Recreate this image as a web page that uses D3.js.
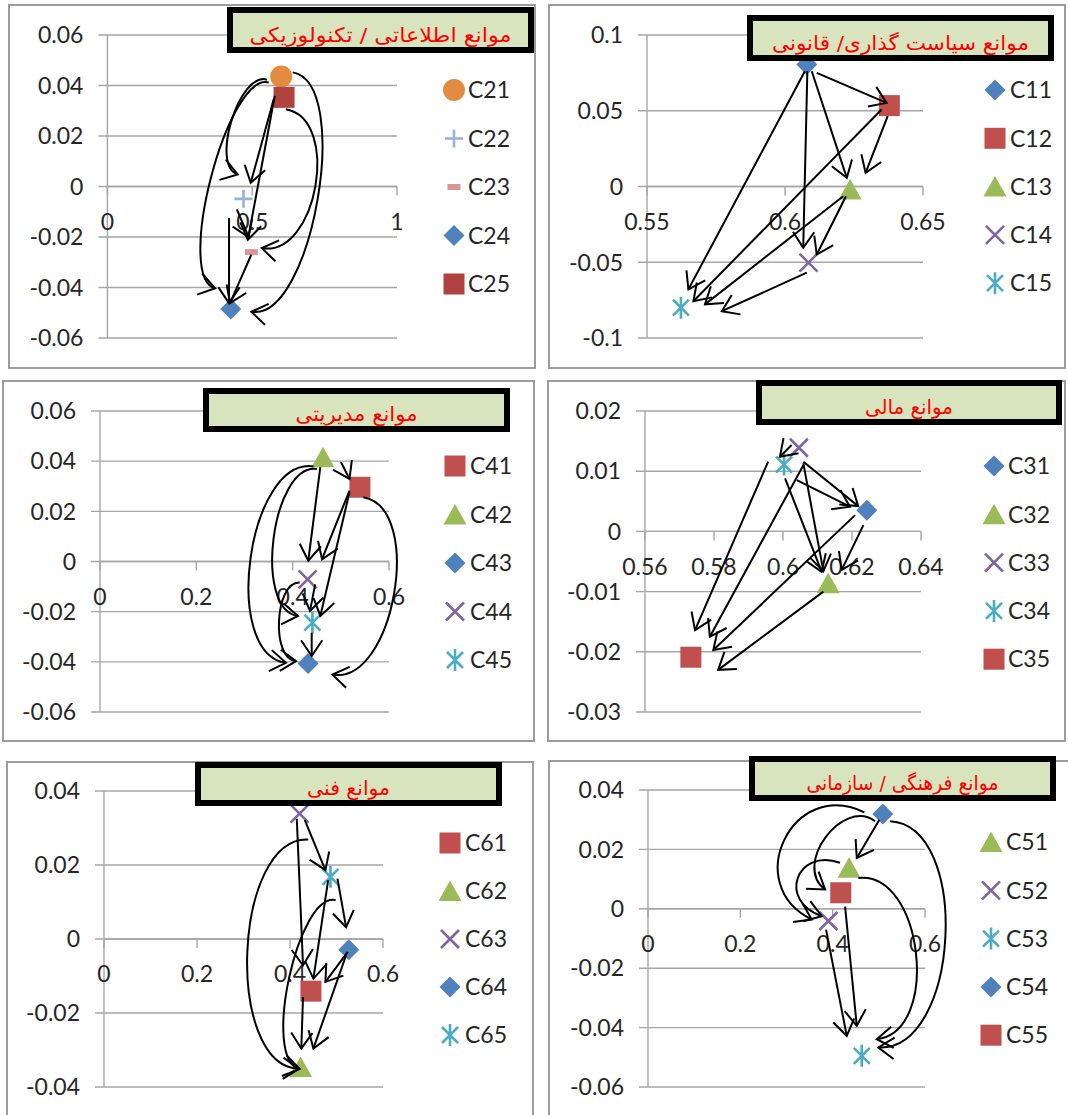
<!DOCTYPE html>
<html><head><meta charset="utf-8">
<script src="https://cdn.jsdelivr.net/npm/d3@7"></script>
<style>body{margin:0;background:#fff} svg{display:block}</style>
</head><body>
<svg id="c" width="1068" height="1115"></svg>
<script>
// ================= DATA =================
// Panel 1 : موانع اطلاعاتی / تکنولوزیکی
const p1Title = "موانع اطلاعاتی / تکنولوزیکی";
const p1Names = ["C21","C22","C23","C24","C25"];
const p1X = [0.600, 0.470, 0.497, 0.426, 0.610];
const p1Y = [0.0436, -0.0049, -0.0260, -0.0485, 0.0353];
const p1XTicks = [0, 0.5, 1];
const p1XLabels = ["0","0.5","1"];
const p1YTicks = [0.06, 0.04, 0.02, 0, -0.02, -0.04, -0.06];
const p1YLabels = ["0.06","0.04","0.02","0","-0.02","-0.04","-0.06"];
// arrows: [x0, y0, x1, y1, bend]
const p1Arrows = [
  [0.551, 0.0423, 0.450, 0.0048, 0.22],
  [0.557, 0.0412, 0.372, -0.0403, 0.15],
  [0.5745, 0.0346, 0.495, 0.0015, 0],
  [0.578, 0.0359, 0.485, -0.0211, 0],
  [0.420, -0.0125, 0.420, -0.0462, 0],
  [0.447, -0.0091, 0.4876, -0.0200, 0],
  [0.497, -0.0270, 0.4235, -0.0462, 0],
  [0.616, 0.0306, 0.533, -0.0244, -0.30],
  [0.640, 0.0452, 0.497, -0.0496, -0.19]
];

// Panel 2 : موانع سیاست گذاری/ قانونی
const p2Title = "موانع سیاست گذاری/ قانونی";
const p2Names = ["C11","C12","C13","C14","C15"];
const p2X = [0.6079, 0.6378, 0.6236, 0.6085, 0.5623];
const p2Y = [0.0805, 0.0534, -0.0020, -0.0503, -0.0800];
const p2XTicks = [0.55, 0.6, 0.65];
const p2XLabels = ["0.55","0.6","0.65"];
const p2YTicks = [0.1, 0.05, 0, -0.05, -0.1];
const p2YLabels = ["0.1","0.05","0","-0.05","-0.1"];
const p2Arrows = [
  [0.6115, 0.0750, 0.6368, 0.0552, 0],
  [0.6097, 0.0761, 0.6224, 0.0057, 0],
  [0.6081, 0.0761, 0.6066, -0.0404, 0],
  [0.6072, 0.0761, 0.5650, -0.0679, 0],
  [0.6372, 0.0464, 0.6292, 0.0090, 0],
  [0.6350, 0.0508, 0.5668, -0.0757, 0],
  [0.6221, -0.0064, 0.6115, -0.0449, 0],
  [0.6211, -0.0064, 0.5710, -0.0778, 0],
  [0.6079, -0.0569, 0.5771, -0.0823, 0]
];

// Panel 3 : موانع مدیریتی
const p3Title = "موانع مدیریتی";
const p3Names = ["C41","C42","C43","C44","C45"];
const p3X = [0.5396, 0.463, 0.432, 0.431, 0.441];
const p3Y = [0.0296, 0.0416, -0.0407, -0.0071, -0.0244];
const p3XTicks = [0, 0.2, 0.4, 0.6];
const p3XLabels = ["0","0.2","0.4","0.6"];
const p3YTicks = [0.06, 0.04, 0.02, 0, -0.02, -0.04, -0.06];
const p3YLabels = ["0.06","0.04","0.02","0","-0.02","-0.04","-0.06"];
const p3Arrows = [
  [0.5003, 0.0396, 0.518, 0.0329, 0],
  [0.4574, 0.0376, 0.4324, 0.0003, 0],
  [0.518, 0.0283, 0.461, 0.0009, 0],
  [0.518, 0.0276, 0.4574, -0.0217, 0],
  [0.4467, -0.0091, 0.436, -0.0197, 0],
  [0.4395, -0.0284, 0.4395, -0.0377, 0],
  [0.4432, 0.0379, 0.386, -0.0404, 0.25],
  [0.4503, 0.0369, 0.411, -0.0217, 0.23],
  [0.4145, -0.0084, 0.407, -0.0397, 0.24],
  [0.5468, 0.0256, 0.4825, -0.0451, -0.26]
];

// Panel 4 : موانع مالی
const p4Title = "موانع مالی";
const p4Names = ["C31","C32","C33","C34","C35"];
const p4X = [0.6243, 0.6131, 0.6046, 0.6003, 0.5733];
const p4Y = [0.0035, -0.0086, 0.0139, 0.0111, -0.0209];
const p4XTicks = [0.56, 0.58, 0.6, 0.62, 0.64];
const p4XLabels = ["0.56","0.58","0.6","0.62","0.64"];
const p4YTicks = [0.02, 0.01, 0, -0.01, -0.02, -0.03];
const p4YLabels = ["0.02","0.01","0","-0.01","-0.02","-0.03"];
const p4Arrows = [
  [0.6025, 0.01434, 0.5991, 0.0124, 0],
  [0.6059, 0.01158, 0.6218, 0.0042, 0],
  [0.6040, 0.0085, 0.6194, 0.0041, 0],
  [0.6006, 0.0088, 0.6112, -0.0067, 0],
  [0.6059, 0.0113, 0.6117, -0.0066, 0],
  [0.6233, 0.00105, 0.6170, -0.0064, 0],
  [0.5957, 0.0116, 0.5745, -0.0164, 0],
  [0.6059, 0.0110, 0.5788, -0.0175, 0],
  [0.6209, 0.0027, 0.5798, -0.0197, 0],
  [0.6117, -0.0100, 0.5812, -0.0230, 0]
];

// Panel 5 : موانع فنی
const p5Title = "موانع فنی";
const p5Names = ["C61","C62","C63","C64","C65"];
const p5X = [0.445, 0.4228, 0.4206, 0.5265, 0.487];
const p5Y = [-0.0141, -0.0346, 0.0339, -0.0029, 0.0168];
const p5XTicks = [0, 0.2, 0.4, 0.6];
const p5XLabels = ["0","0.2","0.4","0.6"];
const p5YTicks = [0.04, 0.02, 0, -0.02, -0.04];
const p5YLabels = ["0.04","0.02","0","-0.02","-0.04"];
const p5Arrows = [
  [0.4318, 0.0321, 0.4761, 0.0186, 0],
  [0.5021, 0.0163, 0.5206, 0.0032, 0],
  [0.4146, 0.0325, 0.4280, -0.0071, 0],
  [0.4821, 0.0159, 0.4503, -0.0107, 0],
  [0.5243, -0.0035, 0.4761, -0.0116, 0],
  [0.4280, -0.0157, 0.4243, -0.0296, 0],
  [0.5206, -0.0044, 0.4503, -0.0296, 0],
  [0.4391, 0.0269, 0.4191, -0.0351, 0.245],
  [0.4983, 0.0105, 0.4206, -0.0351, 0.17]
];

// Panel 6 : موانع فرهنگی / سازمانی
const p6Title = "موانع فرهنگی / سازمانی";
const p6Names = ["C51","C52","C53","C54","C55"];
const p6X = [0.4355, 0.3907, 0.463, 0.5085, 0.4175];
const p6Y = [0.0138, -0.0041, -0.0495, 0.0319, 0.0054];
const p6XTicks = [0, 0.2, 0.4, 0.6];
const p6XLabels = ["0","0.2","0.4","0.6"];
const p6YTicks = [0.04, 0.02, 0, -0.02, -0.04, -0.06];
const p6YLabels = ["0.04","0.02","0","-0.02","-0.04","-0.06"];
const p6Arrows = [
  [0.5012, 0.0300, 0.4522, 0.0171, 0],
  [0.4269, 0.0007, 0.4522, -0.0394, 0],
  [0.3857, -0.0070, 0.4305, -0.0428, 0],
  [0.4687, 0.0325, 0.3547, -0.0036, 0.50],
  [0.4919, 0.0295, 0.3835, 0.0065, 0.36],
  [0.4160, 0.0155, 0.3763, -0.0025, 0.62],
  [0.4557, 0.0104, 0.4955, -0.0439, -0.30],
  [0.5244, 0.0295, 0.4990, -0.0467, -0.27]
];

// ================= STYLE / LAYOUT =================
const BLUE="#4F81BD", RED="#C0504D", GREEN="#9BBB59", PURPLE="#8064A2", CYAN="#4BACC6";
const p1Sym = ["circle","plus","dash","diamond","square"];
const p1Col = ["#E38B3E","#95B3D7","#D99694",BLUE,"#B04340"];
const p2Sym = ["diamond","square","triangle","x","star"];
const p2Col = [BLUE,RED,GREEN,PURPLE,CYAN];
const p3Sym = ["square","triangle","diamond","x","star"];
const p3Col = [RED,GREEN,BLUE,PURPLE,CYAN];
const p4Sym = ["diamond","triangle","x","star","square"];
const p4Col = [BLUE,GREEN,PURPLE,CYAN,RED];
const p5Sym = ["square","triangle","x","diamond","star"];
const p5Col = [RED,GREEN,PURPLE,BLUE,CYAN];
const p6Sym = ["triangle","x","star","diamond","square"];
const p6Col = [GREEN,PURPLE,CYAN,BLUE,RED];

const layouts = [
  {border:[9,5,535,368], plot:[107.4,397,35,338], xd:[0,1], yd:[-0.06,0.06],
   leg:[454,468,90,48.5], title:[227,7,534,53], tw:262},
  {border:[549,5,1065,368], plot:[647,923,35,338], xd:[0.55,0.65], yd:[-0.1,0.1],
   leg:[995,1010,90,48.3], title:[747,15,1054,61], tw:257},
  {border:[3,381,534,741], plot:[100,389,411,712], xd:[0,0.6], yd:[-0.06,0.06],
   leg:[455,470,466,48.5], title:[203,388,510,432], tw:122},
  {border:[548,381,1065,741], plot:[645,921,411,712], xd:[0.56,0.64], yd:[-0.03,0.02],
   leg:[994,1008,466,48.3], title:[756,380,1062,425], tw:88},
  {border:[7,762,533,1130], plot:[104,383,791,1087], xd:[0,0.6], yd:[-0.04,0.04],
   leg:[450,465,843,48], title:[195,762,502,806], tw:83},
  {border:[549,761,1080,1130], plot:[648,925,790,1087], xd:[0,0.6], yd:[-0.06,0.04],
   leg:[991,1006,842,48.3], title:[749,756,1056,801], tw:192}
];

const panels = [
  {title:p1Title,names:p1Names,xs:p1X,ys:p1Y,xt:p1XTicks,xl:p1XLabels,yt:p1YTicks,yl:p1YLabels,arrows:p1Arrows,sym:p1Sym,col:p1Col},
  {title:p2Title,names:p2Names,xs:p2X,ys:p2Y,xt:p2XTicks,xl:p2XLabels,yt:p2YTicks,yl:p2YLabels,arrows:p2Arrows,sym:p2Sym,col:p2Col},
  {title:p3Title,names:p3Names,xs:p3X,ys:p3Y,xt:p3XTicks,xl:p3XLabels,yt:p3YTicks,yl:p3YLabels,arrows:p3Arrows,sym:p3Sym,col:p3Col},
  {title:p4Title,names:p4Names,xs:p4X,ys:p4Y,xt:p4XTicks,xl:p4XLabels,yt:p4YTicks,yl:p4YLabels,arrows:p4Arrows,sym:p4Sym,col:p4Col},
  {title:p5Title,names:p5Names,xs:p5X,ys:p5Y,xt:p5XTicks,xl:p5XLabels,yt:p5YTicks,yl:p5YLabels,arrows:p5Arrows,sym:p5Sym,col:p5Col},
  {title:p6Title,names:p6Names,xs:p6X,ys:p6Y,xt:p6XTicks,xl:p6XLabels,yt:p6YTicks,yl:p6YLabels,arrows:p6Arrows,sym:p6Sym,col:p6Col}
];

const FONT = "Lato, 'Open Sans', sans-serif";
const GRID = "#A6A6A6";
const svg = d3.select("#c");

function marker(g, type, color, cx, cy) {
  const s = g.append("g").attr("transform", `translate(${cx},${cy})`);
  if (type === "circle") s.append("circle").attr("r", 11).attr("fill", color);
  else if (type === "square") s.append("rect").attr("x",-10.5).attr("y",-10.5).attr("width",21).attr("height",21).attr("fill",color);
  else if (type === "diamond") s.append("path").attr("d","M0,-10.5L10.5,0L0,10.5L-10.5,0Z").attr("fill",color);
  else if (type === "triangle") s.append("path").attr("d","M0,-10.5L11.5,10L-11.5,10Z").attr("fill",color);
  else if (type === "dash") s.append("rect").attr("x",-6.5).attr("y",-3).attr("width",13).attr("height",6).attr("fill",color);
  else if (type === "plus") s.append("path").attr("d","M-9,0H9M0,-9V9").attr("stroke",color).attr("stroke-width",2.6).attr("fill","none");
  else if (type === "x") s.append("path").attr("d","M-9,-9L9,9M-9,9L9,-9").attr("stroke",color).attr("stroke-width",2.6).attr("fill","none");
  else if (type === "star") s.append("path").attr("d","M-8,-8L8,8M-8,8L8,-8M0,-11V11").attr("stroke",color).attr("stroke-width",2.6).attr("fill","none");
}

function drawArrow(g, a, x, y) {
  const [x0,y0,x1,y1,b] = a;
  const p0 = [x(x0), y(y0)], p1 = [x(x1), y(y1)];
  const dx = p1[0]-p0[0], dy = p1[1]-p0[1], len = Math.hypot(dx,dy);
  const px = -dy/len, py = dx/len;
  const h = b*len/0.75;
  const c1 = [p0[0]+px*h, p0[1]+py*h], c2 = [p1[0]+px*h, p1[1]+py*h];
  const p = d3.path();
  p.moveTo(p0[0],p0[1]);
  if (b === 0) p.lineTo(p1[0],p1[1]);
  else p.bezierCurveTo(c1[0],c1[1],c2[0],c2[1],p1[0],p1[1]);
  g.append("path").attr("d", p.toString()).attr("fill","none").attr("stroke","#000").attr("stroke-width",2);
  let tx = b === 0 ? dx : p1[0]-c2[0], ty = b === 0 ? dy : p1[1]-c2[1];
  const tl = Math.hypot(tx,ty); tx/=tl; ty/=tl;
  const L = 19, ang = 34*Math.PI/180;
  const w = [ang,-ang].map(t => {
    const cx = tx*Math.cos(t) - ty*Math.sin(t), cy = tx*Math.sin(t) + ty*Math.cos(t);
    return [p1[0]-cx*L, p1[1]-cy*L];
  });
  g.append("path").attr("d", `M${w[0][0]},${w[0][1]}L${p1[0]},${p1[1]}L${w[1][0]},${w[1][1]}`)
    .attr("fill","none").attr("stroke","#000").attr("stroke-width",2).attr("stroke-linejoin","miter");
}

panels.forEach((P, i) => {
  const L = layouts[i];
  const g = svg.append("g");
  const [bx0,by0,bx1,by1] = L.border;
  g.append("rect").attr("x",bx0).attr("y",by0).attr("width",bx1-bx0).attr("height",by1-by0)
    .attr("fill","#fff").attr("stroke","#9C9C9C").attr("stroke-width",2);
  const [l,r,t,bt] = L.plot;
  const x = d3.scaleLinear().domain(L.xd).range([l,r]);
  const y = d3.scaleLinear().domain(L.yd).range([bt,t]);
  // gridlines + y axis
  P.yt.forEach((v, k) => {
    g.append("line").attr("x1",l-9).attr("x2",r).attr("y1",y(v)).attr("y2",y(v))
      .attr("stroke",GRID).attr("stroke-width",1.4);
    g.append("text").attr("x",l-24).attr("y",y(v)).attr("dy","0.36em").attr("text-anchor","end")
      .attr("font-family",FONT).attr("font-size",23).attr("fill","#262626").text(P.yl[k]);
  });
  g.append("line").attr("x1",l).attr("x2",l).attr("y1",t).attr("y2",bt).attr("stroke",GRID).attr("stroke-width",1.4);
  // x axis at y=0
  const y0 = y(0);
  g.append("line").attr("x1",l).attr("x2",r).attr("y1",y0).attr("y2",y0).attr("stroke",GRID).attr("stroke-width",1.4);
  P.xt.forEach((v, k) => {
    g.append("line").attr("x1",x(v)).attr("x2",x(v)).attr("y1",y0).attr("y2",y0+9).attr("stroke",GRID).attr("stroke-width",1.4);
    g.append("text").attr("x",x(v)).attr("y",y0+35).attr("dy","0.36em").attr("text-anchor","middle")
      .attr("font-family",FONT).attr("font-size",23).attr("fill","#262626").text(P.xl[k]);
  });
  // points
  P.names.forEach((n, k) => marker(g, P.sym[k], P.col[k], x(P.xs[k]), y(P.ys[k])));
  // arrows
  P.arrows.forEach(a => drawArrow(g, a, x, y));
  // legend
  const [mx, tx, ly0, step] = L.leg;
  P.names.forEach((n, k) => {
    marker(g, P.sym[k], P.col[k], mx, ly0 + k*step);
    g.append("text").attr("x",tx).attr("y",ly0 + k*step).attr("dy","0.36em")
      .attr("font-family",FONT).attr("font-size",23).attr("fill","#262626").text(n);
  });
  // title box
  const [tx0,ty0,tx1,ty1] = L.title;
  const clipId = "tc"+i;
  svg.append("clipPath").attr("id",clipId).append("rect")
    .attr("x",tx0+6).attr("y",ty0+6).attr("width",tx1-tx0-12).attr("height",ty1-ty0-12);
  g.append("rect").attr("x",tx0+3).attr("y",ty0+3).attr("width",tx1-tx0-6).attr("height",ty1-ty0-6)
    .attr("fill","#D7E4BD");
  g.append("text").attr("clip-path",`url(#${clipId})`)
    .attr("x",(tx0+tx1)/2).attr("y",ty1-11.5).attr("text-anchor","middle")
    .attr("direction","rtl")
    .attr("font-family","'DejaVu Sans', sans-serif").attr("font-size",20).attr("fill","#FF0000")
    .attr("textLength",L.tw).attr("lengthAdjust","spacingAndGlyphs")
    .text(P.title);
  g.append("rect").attr("x",tx0+3).attr("y",ty0+3).attr("width",tx1-tx0-6).attr("height",ty1-ty0-6)
    .attr("fill","none").attr("stroke","#000").attr("stroke-width",6);
});
</script>
</body></html>
